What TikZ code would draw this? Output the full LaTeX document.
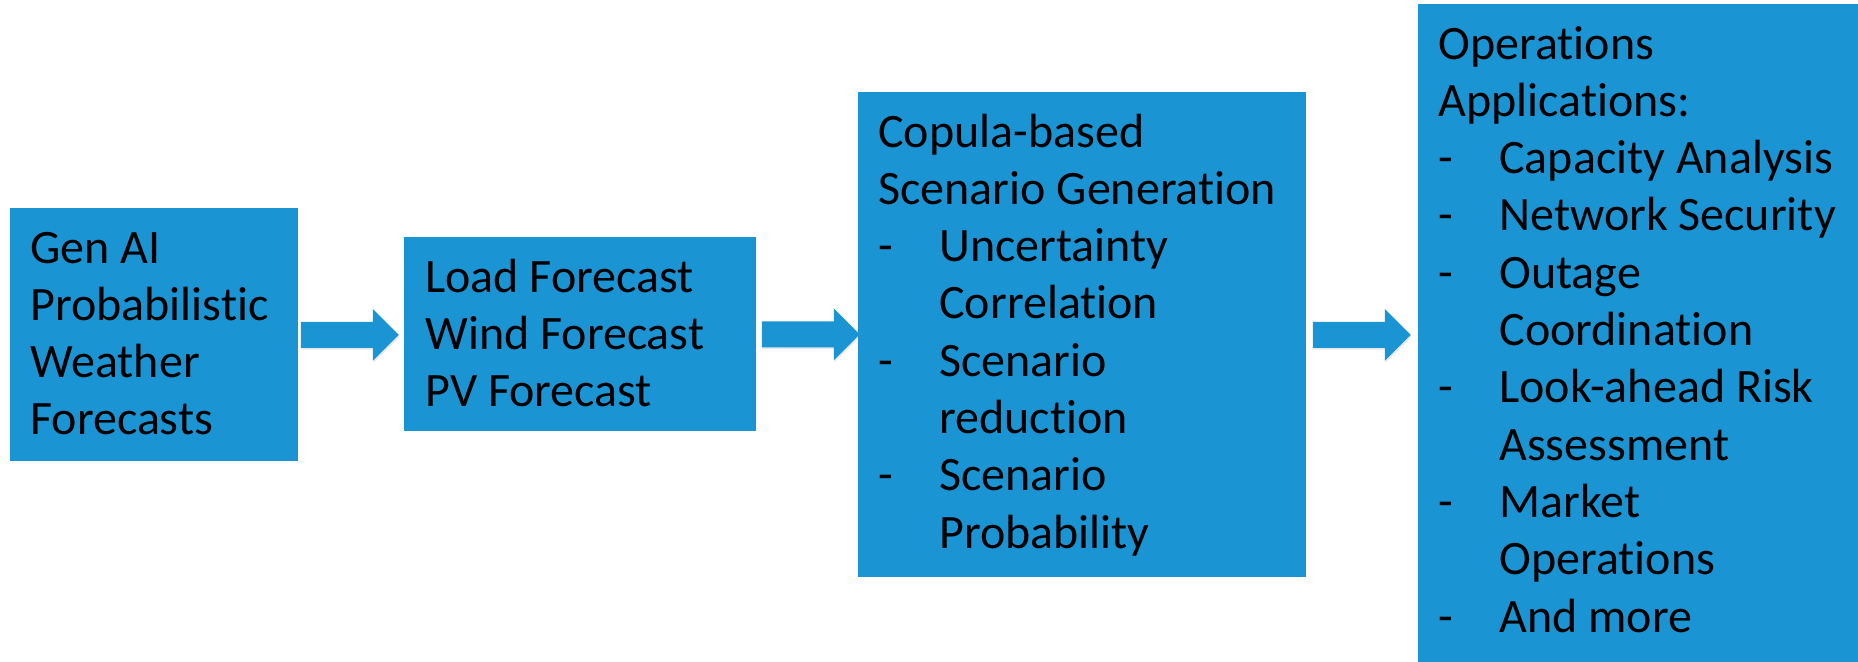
\documentclass[tikz,border=0pt]{standalone}
\usepackage{fontspec}
\setmainfont{Carlito}[Ligatures=NoCommon]
\usetikzlibrary{calc,shadows}
\definecolor{boxblue}{HTML}{1A94D2}
% list helpers: a dash entry and its continuation line
\newcommand{\dashitem}[1]{\hbox{\makebox[30.5pt][l]{-}#1}}
\newcommand{\dashcont}[1]{\hbox{\hspace*{30.5pt}#1}}
\newcommand{\plainline}[1]{\hbox{#1}}
\tikzset{
  stage/.style={fill=boxblue, draw=none, inner sep=0pt, anchor=north west},
  stagetext/.style={inner sep=0pt, anchor=base west, text=black,
    font=\fontsize{24pt}{28.65pt}\selectfont},
  flowarrow/.style={fill=boxblue, drop shadow={opacity=0.18, shadow xshift=0.4pt, shadow yshift=-0.9pt}},
}
% block arrow starting #2 px right of node #1, 72 px shaft + 26 px head
\newcommand{\blockarrow}[2]{%
  \path[flowarrow] ($(#1.east)+(#2,-13)$) -- ++(72,0) -- ++(0,-13) -- ++(26,26)
    -- ++(-26,26) -- ++(0,-13) -- ++(-72,0) -- cycle;}
\begin{document}
\begin{tikzpicture}[x=0.5pt, y=-0.5pt]
  \useasboundingbox (0,0) rectangle (1858,661);
  \clip (0,0) rectangle (1858,661);

  % stages
  \node[stage, minimum width=144pt, minimum height=126.5pt] (b1) at (10,208) {};
  \node[stage, minimum width=176pt, minimum height=97pt] (b2) at (404,237) {};
  \node[stage, minimum width=224pt, minimum height=242.5pt] (b3) at (858,92) {};
  \node[stage, minimum width=230pt, minimum height=330pt] (b4) at (1418,4) {};

  % stage texts
  \node[stagetext] (t1) at (30,263) {\vtop{%
    \plainline{Gen AI}\plainline{Probabilistic}\plainline{Weather}\plainline{Forecasts}}};
  \node[stagetext] (t2) at (425,292) {\vtop{%
    \plainline{Load Forecast}\plainline{Wind Forecast}\plainline{PV Forecast}}};
  \node[stagetext] (t3) at (878,147) {\vtop{%
    \plainline{Copula-based}\plainline{Scenario Generation}%
    \dashitem{Uncertainty}\dashcont{Correlation}%
    \dashitem{Scenario}\dashcont{reduction}%
    \dashitem{Scenario}\dashcont{Probability}}};
  \node[stagetext] (t4) at (1438,59) {\vtop{%
    \plainline{Operations}\plainline{Applications:}%
    \dashitem{Capacity Analysis}\dashitem{Network Security}%
    \dashitem{Outage}\dashcont{Coordination}%
    \dashitem{Look-ahead Risk}\dashcont{Assessment}%
    \dashitem{Market}\dashcont{Operations}%
    \dashitem{And more}}};

  % flow arrows
  \blockarrow{b1}{2}
  \blockarrow{b2}{5}
  \blockarrow{b3}{6}
\end{tikzpicture}
\end{document}
